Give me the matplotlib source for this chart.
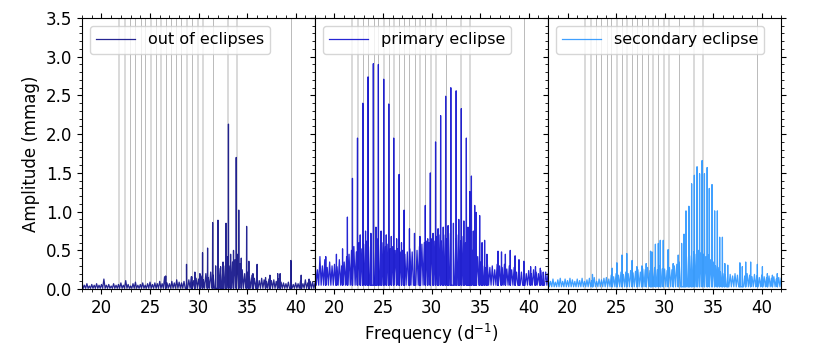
"""Amplitude spectra out of eclipses, in primary and in secondary eclipse."""
import numpy as np
import matplotlib.pyplot as plt
from matplotlib.ticker import MultipleLocator

# frequencies of the marked combination / harmonic lines (d^-1)
lines_light = [21.83, 22.38, 25.07, 26.14, 28.83, 29.90, 30.41, 33.07, 33.93]
lines_dark = [22.93, 23.48, 24.03, 24.52, 25.59, 26.65, 27.20, 27.72, 28.24,
              29.34, 31.45, 39.51]

# noise grass: local maxima read every 0.25 d^-1 from 18 to 42
grass_freq = np.arange(18.0, 42.001, 0.25)

out_grass = [0.09, 0.05, 0.07, 0.04, 0.06, 0.05, 0.07, 0.05,
             0.06, 0.13, 0.05, 0.06, 0.04, 0.07, 0.05, 0.06,
             0.08, 0.05, 0.11, 0.06, 0.04, 0.07, 0.09, 0.05,
             0.06, 0.08, 0.05, 0.07, 0.09, 0.06, 0.08, 0.07,
             0.10, 0.07, 0.16, 0.08, 0.07, 0.10, 0.08, 0.12,
             0.09, 0.08, 0.10, 0.07, 0.12, 0.16, 0.11, 0.14,
             0.13, 0.17, 0.12, 0.20, 0.15, 0.22, 0.18, 0.30,
             0.20, 0.27, 0.25, 0.30, 0.42, 0.30, 0.35, 0.38,
             0.45, 0.33, 0.25, 0.20, 0.22, 0.15, 0.18, 0.14,
             0.13, 0.11, 0.14, 0.12, 0.10, 0.13, 0.11, 0.12,
             0.10, 0.13, 0.09, 0.08, 0.07, 0.09, 0.08, 0.06,
             0.08, 0.07, 0.10, 0.07, 0.12, 0.08, 0.10, 0.09, 0.08]
out_floor = 0.01
out_peak_freq = [26.62, 28.76, 29.30, 29.62, 30.14, 30.41, 30.93, 31.45, 31.76,
                 32.00, 32.27, 32.52, 32.83, 33.08, 33.30, 33.60, 33.88, 34.14,
                 34.40, 34.95, 35.18, 35.60, 36.03, 36.90, 37.35, 38.15, 38.40,
                 39.51, 40.57, 41.38]
out_peak_amp = [0.17, 0.32, 0.16, 0.22, 0.20, 0.47, 0.53, 0.86, 0.30,
                0.89, 0.29, 0.35, 0.85, 2.13, 0.45, 0.50, 1.70, 1.02,
                0.40, 0.81, 0.36, 0.20, 0.32, 0.15, 0.18, 0.20, 0.20,
                0.37, 0.18, 0.13]

pri_grass = [0.40, 0.25, 0.42, 0.30, 0.38, 0.28, 0.35, 0.30,
             0.32, 0.29, 0.38, 0.30, 0.35, 0.42, 0.45, 0.50,
             0.55, 0.48, 0.60, 0.52, 0.58, 0.62, 0.55, 0.60,
             0.62, 0.55, 0.65, 0.58, 0.60, 0.55, 0.58, 0.52,
             0.55, 0.50, 0.52, 0.48, 0.50, 0.45, 0.48, 0.52,
             0.48, 0.42, 0.50, 0.55, 0.58, 0.60, 0.62, 0.60,
             0.65, 0.62, 0.68, 0.70, 0.62, 0.70, 0.65, 0.72,
             0.68, 0.72, 0.65, 0.70, 0.62, 0.68, 0.60, 0.58,
             0.55, 0.50, 0.45, 0.42, 0.35, 0.30, 0.28, 0.32,
             0.28, 0.30, 0.25, 0.32, 0.30, 0.28, 0.32, 0.26,
             0.30, 0.25, 0.28, 0.22, 0.25, 0.22, 0.26, 0.20,
             0.24, 0.20, 0.25, 0.22, 0.20, 0.24, 0.18, 0.22, 0.20]
pri_floor = 0.05
pri_peak_freq = [19.10, 20.20, 20.83, 21.33, 21.85, 22.37, 22.65, 22.92, 23.20,
                 23.46, 23.75, 24.00, 24.27, 24.52, 24.80, 25.07, 25.33, 25.59,
                 25.85, 26.10, 26.40, 26.65, 26.90, 27.17, 27.72, 28.24, 28.80,
                 29.35, 29.60, 29.87, 30.15, 30.41, 30.67, 30.93, 31.20, 31.45,
                 31.70, 31.98, 32.25, 32.53, 32.80, 33.06, 33.32, 33.58, 33.75,
                 33.93, 34.10, 34.30, 34.44, 34.60, 34.95, 35.20, 35.46, 35.70,
                 36.84, 37.20, 37.60, 38.10, 38.60, 39.00, 39.50, 40.20, 40.70,
                 41.20, 41.50]
pri_peak_amp = [0.42, 0.45, 0.52, 0.93, 1.43, 1.95, 0.70, 2.40, 0.75,
                2.74, 0.72, 2.91, 0.80, 2.90, 0.75, 2.71, 0.70, 2.39,
                0.68, 1.95, 0.65, 1.48, 0.60, 1.02, 0.78, 0.72, 0.68,
                1.08, 0.65, 1.50, 0.72, 1.90, 0.78, 2.24, 0.80, 2.49,
                0.82, 2.60, 0.85, 2.56, 0.90, 2.33, 0.88, 1.95, 0.80,
                1.26, 1.46, 0.75, 1.08, 0.99, 0.95, 0.60, 0.63, 0.45,
                0.49, 0.48, 0.45, 0.50, 0.43, 0.38, 0.36, 0.29, 0.29,
                0.27, 0.22]

sec_grass = [0.14, 0.10, 0.13, 0.09, 0.12, 0.14, 0.10, 0.13,
             0.11, 0.14, 0.12, 0.10, 0.13, 0.11, 0.14, 0.10,
             0.12, 0.14, 0.11, 0.15, 0.10, 0.13, 0.12, 0.14,
             0.15, 0.13, 0.18, 0.16, 0.20, 0.18, 0.22, 0.19,
             0.22, 0.20, 0.24, 0.21, 0.23, 0.25, 0.22, 0.26,
             0.25, 0.28, 0.24, 0.27, 0.28, 0.25, 0.30, 0.26,
             0.26, 0.24, 0.28, 0.25, 0.30, 0.32, 0.35, 0.38,
             0.40, 0.42, 0.45, 0.43, 0.48, 0.45, 0.50, 0.47,
             0.45, 0.42, 0.44, 0.38, 0.35, 0.30, 0.28, 0.22,
             0.20, 0.18, 0.22, 0.19, 0.17, 0.20, 0.18, 0.21,
             0.19, 0.17, 0.20, 0.18, 0.16, 0.19, 0.17, 0.15,
             0.18, 0.16, 0.15, 0.17, 0.14, 0.16, 0.13, 0.15, 0.14]
sec_floor = 0.03
sec_peak_freq = [22.57, 24.60, 25.08, 25.60, 26.10, 26.65, 27.14, 27.66, 28.10,
                 28.55, 28.70, 29.05, 29.35, 29.55, 29.86, 30.36, 30.88, 31.40,
                 31.75, 32.00, 32.20, 32.50, 32.78, 33.06, 33.34, 33.60, 33.86,
                 34.10, 34.38, 34.60, 34.88, 35.15, 35.43, 35.67, 35.95, 36.20,
                 36.50, 37.75, 38.00, 38.35, 38.86, 39.55, 40.07, 40.58, 41.10,
                 41.60]
sec_peak_amp = [0.19, 0.27, 0.34, 0.44, 0.46, 0.37, 0.29, 0.30, 0.33,
                0.49, 0.48, 0.58, 0.59, 0.63, 0.63, 0.51, 0.33, 0.44,
                0.59, 0.71, 1.01, 1.07, 1.36, 1.47, 1.58, 1.49, 1.66,
                1.49, 1.57, 1.30, 1.35, 1.01, 1.01, 0.67, 0.67, 0.33,
                0.31, 0.34, 0.29, 0.35, 0.35, 0.32, 0.29, 0.20, 0.18,
                0.20]

panels = [
    ("out of eclipses", "navy", out_grass, out_floor, out_peak_freq, out_peak_amp),
    ("primary eclipse", "mediumblue", pri_grass, pri_floor, pri_peak_freq, pri_peak_amp),
    ("secondary eclipse", "dodgerblue", sec_grass, sec_floor, sec_peak_freq, sec_peak_amp),
]


def spectrum_trace(grass, floor, peak_freq, peak_amp):
    """Join grass maxima, floor dips and narrow peaks into one sorted trace."""
    grass = np.asarray(grass)
    pf = np.asarray(peak_freq)
    pa = np.asarray(peak_amp)
    f = np.concatenate([grass_freq, grass_freq[:-1] + 0.125, pf - 0.02, pf, pf + 0.02])
    a = np.concatenate([grass, np.full(len(grass_freq) - 1, floor),
                        np.full(len(pf), floor), pa, np.full(len(pf), floor)])
    order = np.argsort(f, kind="stable")
    return f[order], a[order]


fig = plt.figure(figsize=(8.22, 3.53), dpi=100)
left, bottom, width, height = 0.0998, 0.181, 0.2835, 0.768
axes = []
for i, (label, color, grass, floor, pf, pa) in enumerate(panels):
    ax = fig.add_axes([left + i * width, bottom, width, height],
                      sharey=axes[0] if axes else None)
    for x in lines_light:
        ax.axvline(x, color="lightgray", lw=1.2, zorder=0)
    for x in lines_dark:
        ax.axvline(x, color="darkgray", lw=0.7, alpha=0.8, zorder=0)

    freq, amp = spectrum_trace(grass, floor, pf, pa)
    ax.plot(freq, amp, color=color, lw=0.9, alpha=0.85, label=label)

    ax.set_xlim(18, 42)
    ax.set_ylim(0, 3.5)
    ax.xaxis.set_major_locator(MultipleLocator(5))
    ax.xaxis.set_minor_locator(MultipleLocator(1))
    ax.yaxis.set_major_locator(MultipleLocator(0.5))
    ax.yaxis.set_minor_locator(MultipleLocator(0.1))
    ax.tick_params(which="both", direction="out", top=True, right=True,
                   labelsize=12)
    if i > 0:
        ax.tick_params(labelleft=False)
    ax.legend(loc="upper left", fontsize=11.5, handlelength=2.4)
    axes.append(ax)

axes[0].set_ylabel("Amplitude (mmag)", fontsize=12)
axes[1].set_xlabel("Frequency (d$^{-1}$)", fontsize=12)

fig.savefig("out.png", dpi=100)
plt.close(fig)
